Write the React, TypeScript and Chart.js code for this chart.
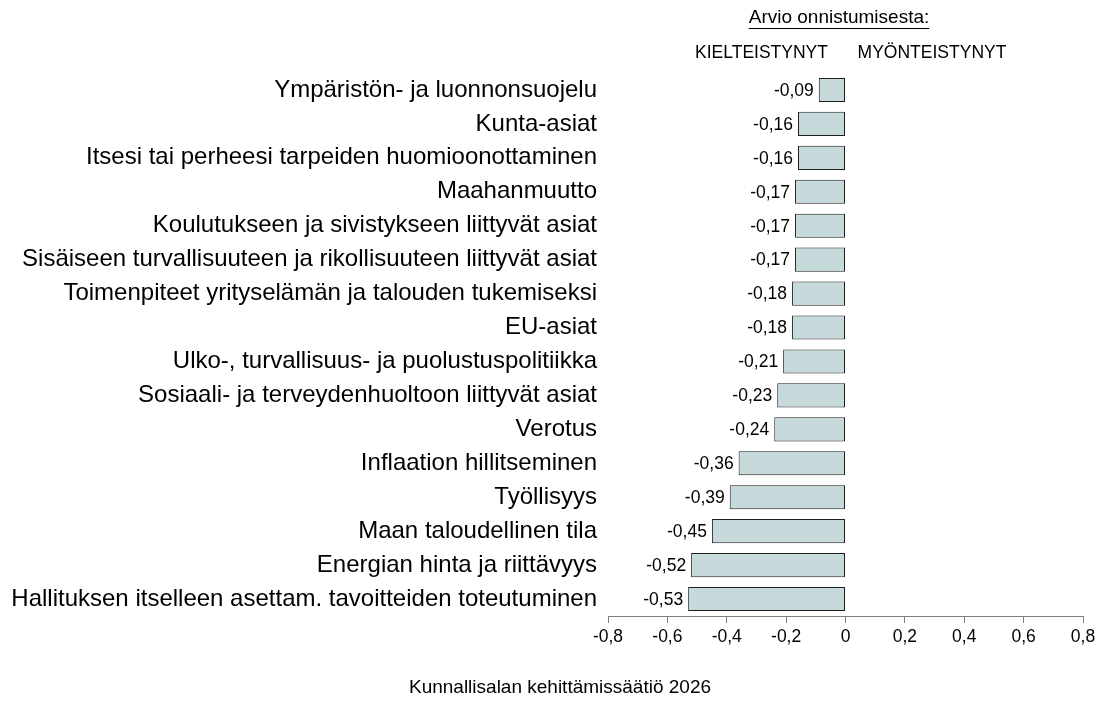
import React, { useEffect, useRef } from "react";
import { Chart, registerables } from "chart.js";

Chart.register(...registerables);

const categories = [
  "Ympäristön- ja luonnonsuojelu",
  "Kunta-asiat",
  "Itsesi tai perheesi tarpeiden huomioonottaminen",
  "Maahanmuutto",
  "Koulutukseen ja sivistykseen liittyvät asiat",
  "Sisäiseen turvallisuuteen ja rikollisuuteen liittyvät asiat",
  "Toimenpiteet yrityselämän ja talouden tukemiseksi",
  "EU-asiat",
  "Ulko-, turvallisuus- ja puolustuspolitiikka",
  "Sosiaali- ja terveydenhuoltoon liittyvät asiat",
  "Verotus",
  "Inflaation hillitseminen",
  "Työllisyys",
  "Maan taloudellinen tila",
  "Energian hinta ja riittävyys",
  "Hallituksen itselleen asettam. tavoitteiden toteutuminen",
];

const values = [
  -0.09, -0.16, -0.16, -0.17, -0.17, -0.17, -0.18, -0.18, -0.21, -0.23, -0.24,
  -0.36, -0.39, -0.45, -0.52, -0.53,
];

const headerTitle = "Arvio onnistumisesta:";
const negativeLabel = "KIELTEISTYNYT";
const positiveLabel = "MYÖNTEISTYNYT";
const footerText = "Kunnallisalan kehittämissäätiö 2026";

const FONT = "'Liberation Sans', Arial, Helvetica, sans-serif";

const fmt = (v: number, digits: number) => {
  if (Math.abs(v) < 1e-9) return "0";
  return v.toFixed(digits).replace(".", ",");
};

const annotations = {
  id: "annotations",
  afterDatasetsDraw(chart: any) {
    const ctx = chart.ctx;
    const meta = chart.getDatasetMeta(0);
    ctx.save();
    ctx.fillStyle = "#000";
    ctx.font = `17.5px ${FONT}`;
    ctx.textAlign = "right";
    ctx.textBaseline = "middle";
    meta.data.forEach((bar: any, i: number) => {
      const left = Math.min(bar.x, bar.base);
      ctx.fillText(fmt(values[i], 2), left - 5, bar.y + 1);
    });

    // header
    ctx.textAlign = "center";
    ctx.textBaseline = "middle";
    ctx.font = `19px ${FONT}`;
    const hx = 839;
    const hy = 18;
    ctx.fillText(headerTitle, hx, hy);
    const w = ctx.measureText(headerTitle).width;
    ctx.strokeStyle = "#000";
    ctx.lineWidth = 1;
    ctx.beginPath();
    ctx.moveTo(hx - w / 2, hy + 10.5);
    ctx.lineTo(hx + w / 2, hy + 10.5);
    ctx.stroke();

    ctx.font = `17.5px ${FONT}`;
    ctx.fillText(negativeLabel, 761.5, 53);
    ctx.fillText(positiveLabel, 932, 53);

    ctx.font = `19px ${FONT}`;
    ctx.fillText(footerText, 560, 688);
    ctx.restore();
  },
};

export default function App() {
  const ref = useRef<HTMLCanvasElement | null>(null);

  useEffect(() => {
    document.body.style.margin = "0";
    const canvas = ref.current;
    if (!canvas) return;
    const chart = new Chart(canvas, {
      type: "bar",
      data: {
        labels: categories,
        datasets: [
          {
            data: values,
            backgroundColor: "#c6dadb",
            borderColor: "#1e1e1e",
            borderWidth: 1,
            borderSkipped: false,
            barPercentage: 0.71,
            categoryPercentage: 1,
          },
        ],
      },
      options: {
        indexAxis: "y",
        animation: false,
        responsive: false,
        maintainAspectRatio: false,
        layout: { padding: { top: 73, right: 17, bottom: 46, left: 0 } },
        plugins: {
          legend: { display: false },
          tooltip: { enabled: false },
          title: { display: false },
        },
        scales: {
          x: {
            min: -0.8,
            max: 0.8,
            ticks: {
              stepSize: 0.2,
              color: "#000",
              font: { family: FONT, size: 17.5 },
              padding: 4,
              callback: (v: any) => fmt(Number(v), 1),
            },
            grid: {
              drawOnChartArea: false,
              drawTicks: true,
              tickLength: 7,
              color: "#7f7f7f",
            },
            border: { display: true, color: "#7f7f7f", width: 1 },
            afterFit: (s: any) => {
              s.height = 40;
            },
          },
          y: {
            ticks: {
              color: "#000",
              font: { family: FONT, size: 24 },
              padding: 11,
              autoSkip: false,
            },
            grid: { display: false, drawTicks: false },
            border: { display: false },
            afterFit: (s: any) => {
              s.width = 608;
            },
          },
        },
      },
      plugins: [annotations],
    });
    return () => chart.destroy();
  }, []);

  return (
    <div style={{ width: 1100, height: 702 }}>
      <canvas ref={ref} width={1100} height={702} style={{ display: "block" }} />
    </div>
  );
}
